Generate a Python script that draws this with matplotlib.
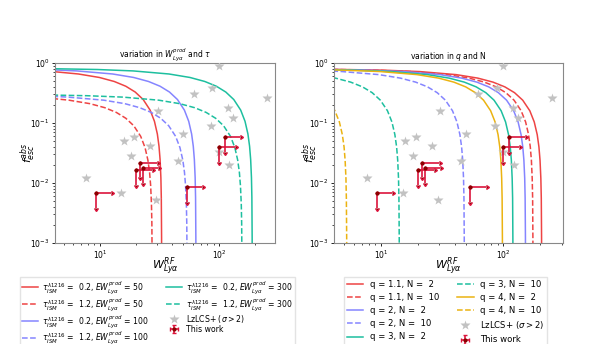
import matplotlib
matplotlib.use("Agg")
import matplotlib.pyplot as plt
import numpy as np

# ---------------- data ----------------
# LzLCS+ (sigma > 2) comparison sample
star_w = [100, 88, 62, 252, 30.6, 120, 131, 85, 50, 19.4, 15.8, 26.2, 18.1, 45.4, 100, 122, 7.7, 15.1, 29.4]
star_f = [0.89, 0.38, 0.30, 0.264, 0.16, 0.176, 0.12, 0.090, 0.066, 0.059, 0.051, 0.041, 0.028, 0.023, 0.033, 0.0197, 0.0123, 0.0069, 0.0052]

# This work: limits (upper limit in f_esc, lower limit in W)
work_w = [9.2, 53.5, 100, 112, 21.8, 20.1, 22.9]
work_f = [0.0069, 0.0085, 0.040, 0.059, 0.0218, 0.0165, 0.0176]
work_f_end = [0.0039, 0.0048, 0.022, 0.033, 0.0125, 0.0092, 0.0100]
work_w_end = [12.4, 72, 135, 150, 30, 27.2, 30.5]

# Left panel model curves
w_t02_e50 = [4, 6.6, 9.9, 13.2, 16.5, 19.8, 23.1, 26.4, 28.71, 30.36, 31.35, 32.01, 32.505, 32.769, 32.95, 32.984]
f_t02_e50 = [0.721, 0.656, 0.574, 0.492, 0.41, 0.328, 0.246, 0.164, 0.1066, 0.0656, 0.041, 0.0246, 0.0123, 0.00574, 0.00123, 0.00041]
w_t12_e50 = [4, 5.5, 8.25, 11.0, 13.75, 16.5, 19.25, 22.0, 23.93, 25.3, 26.13, 26.68, 27.09, 27.31, 27.46]
f_t12_e50 = [0.256, 0.24, 0.21, 0.18, 0.15, 0.12, 0.09, 0.06, 0.039, 0.024, 0.015, 0.009, 0.0045, 0.0021, 0.00045]
w_t02_e100 = [4, 6.4, 12.8, 19.2, 25.6, 32, 38.4, 44.8, 51.2, 55.68, 58.88, 60.8, 62.08, 63.04, 63.55, 63.9, 63.97]
f_t02_e100 = [0.769, 0.738, 0.656, 0.574, 0.492, 0.41, 0.328, 0.246, 0.164, 0.1066, 0.0656, 0.041, 0.0246, 0.0123, 0.00574, 0.00123, 0.00041]
w_t12_e100 = [4, 5.4, 10.8, 16.2, 21.6, 27, 32.4, 37.8, 43.2, 46.98, 49.68, 51.3, 52.38, 53.19, 53.62, 53.92]
f_t12_e100 = [0.278, 0.27, 0.24, 0.21, 0.18, 0.15, 0.12, 0.09, 0.06, 0.039, 0.024, 0.015, 0.009, 0.0045, 0.0021, 0.00045]
w_t02_e300 = [4, 9.5, 19, 38, 57, 76, 95, 114, 133, 152, 165.3, 174.8, 180.5, 184.3, 187.15, 188.67, 189.7, 189.9]
f_t02_e300 = [0.803, 0.779, 0.738, 0.656, 0.574, 0.492, 0.41, 0.328, 0.246, 0.164, 0.1066, 0.0656, 0.041, 0.0246, 0.0123, 0.00574, 0.00123, 0.00041]
w_t12_e300 = [4, 7.8, 15.6, 31.2, 46.8, 62.4, 78, 93.6, 109.2, 124.8, 135.7, 143.5, 148.2, 151.3, 153.7, 154.9, 155.8]
f_t12_e300 = [0.292, 0.285, 0.27, 0.24, 0.21, 0.18, 0.15, 0.12, 0.09, 0.06, 0.039, 0.024, 0.015, 0.009, 0.0045, 0.0021, 0.00045]

# Right panel model curves
w_q11_n2 = [4, 10.3, 20.6, 41.2, 61.8, 82.4, 103, 123.6, 144.2, 164.8, 179.2, 189.5, 195.7, 199.8, 202.9, 204.6, 205.7, 205.9]
f_q11_n2 = [0.784, 0.76, 0.72, 0.64, 0.56, 0.48, 0.40, 0.32, 0.24, 0.16, 0.104, 0.064, 0.04, 0.024, 0.012, 0.0056, 0.0012, 0.0004]
w_q11_n10 = [4, 8.75, 17.5, 35, 52.5, 70, 87.5, 105, 122.5, 140, 152.3, 161, 166.3, 169.8, 172.4, 173.8, 174.7, 174.9]
f_q11_n10 = [0.782, 0.76, 0.72, 0.64, 0.56, 0.48, 0.40, 0.32, 0.24, 0.16, 0.104, 0.064, 0.04, 0.024, 0.012, 0.0056, 0.0012, 0.0004]
w_q2_n2 = [4, 7.6, 15.2, 30.4, 45.6, 60.8, 76, 91.2, 106.4, 121.6, 132.2, 139.8, 144.4, 147.4, 149.7, 150.9, 151.8, 151.9]
f_q2_n2 = [0.779, 0.76, 0.72, 0.64, 0.56, 0.48, 0.40, 0.32, 0.24, 0.16, 0.104, 0.064, 0.04, 0.024, 0.012, 0.0056, 0.0012, 0.0004]
w_q2_n10 = [4, 4.8, 9.6, 14.4, 19.2, 24, 28.8, 33.6, 38.4, 41.76, 44.16, 45.6, 46.56, 47.28, 47.66, 47.93, 47.98]
f_q2_n10 = [0.733, 0.72, 0.64, 0.56, 0.48, 0.40, 0.32, 0.24, 0.16, 0.104, 0.064, 0.04, 0.024, 0.012, 0.0056, 0.0012, 0.0004]
w_q3_n2 = [4, 6, 12, 24, 36, 48, 60, 72, 84, 96, 104.4, 110.4, 114, 116.4, 118.2, 119.2, 119.8, 119.94]
f_q3_n2 = [0.773, 0.76, 0.72, 0.64, 0.56, 0.48, 0.40, 0.32, 0.24, 0.16, 0.104, 0.064, 0.04, 0.024, 0.012, 0.0056, 0.0012, 0.0004]
w_q3_n10 = [4, 4.23, 5.64, 7.05, 8.46, 9.87, 11.28, 12.27, 12.97, 13.4, 13.68, 13.89, 14.0, 14.08, 14.093]
f_q3_n10 = [0.573, 0.56, 0.48, 0.40, 0.32, 0.24, 0.16, 0.104, 0.064, 0.04, 0.024, 0.012, 0.0056, 0.0012, 0.0004]
w_q4_n2 = [4, 4.93, 9.85, 19.7, 29.55, 39.4, 49.25, 59.1, 68.95, 78.8, 85.7, 90.62, 93.58, 95.55, 97.02, 97.81, 98.35, 98.45]
f_q4_n2 = [0.767, 0.76, 0.72, 0.64, 0.56, 0.48, 0.40, 0.32, 0.24, 0.16, 0.104, 0.064, 0.04, 0.024, 0.012, 0.0056, 0.0012, 0.0004]
w_q4_n10 = [4, 4.19, 4.56, 4.82, 4.98, 5.08, 5.16, 5.20, 5.232, 5.237]
f_q4_n10 = [0.19, 0.16, 0.104, 0.064, 0.04, 0.024, 0.012, 0.0056, 0.0012, 0.0004]

left_labels = [
    r"$\tau_{ISM}^{\lambda 1216}$ =  0.2, $EW_{Ly\alpha}^{prod}$ = 50",
    r"$\tau_{ISM}^{\lambda 1216}$ =  1.2, $EW_{Ly\alpha}^{prod}$ = 50",
    r"$\tau_{ISM}^{\lambda 1216}$ =  0.2, $EW_{Ly\alpha}^{prod}$ = 100",
    r"$\tau_{ISM}^{\lambda 1216}$ =  1.2, $EW_{Ly\alpha}^{prod}$ = 100",
    r"$\tau_{ISM}^{\lambda 1216}$ =  0.2, $EW_{Ly\alpha}^{prod}$ = 300",
    r"$\tau_{ISM}^{\lambda 1216}$ =  1.2, $EW_{Ly\alpha}^{prod}$ = 300",
]
right_labels = [
    "q = 1.1, N =  2", "q = 1.1, N =  10", "q = 2, N =  2", "q = 2, N =  10",
    "q = 3, N =  2", "q = 3, N =  10", "q = 4, N =  2", "q = 4, N =  10",
]
star_label = r"LzLCS+ ($\sigma > 2$)"
work_label = "This work"

# ---------------- style ----------------
RED = "#ee4444"
BLUE = "#8585ff"
TEAL = "#1dbf9f"
YEL = "#ebb312"

W, H = 598, 344
fig = plt.figure(figsize=(W / 100, H / 100), dpi=100)
axL = fig.add_axes([55 / W, 1 - 243 / H, 220 / W, 180 / H])
axR = fig.add_axes([334 / W, 1 - 243 / H, 229 / W, 180 / H])

left_curves = [
    (w_t02_e50, f_t02_e50, RED, "-"), (w_t12_e50, f_t12_e50, RED, "--"),
    (w_t02_e100, f_t02_e100, BLUE, "-"), (w_t12_e100, f_t12_e100, BLUE, "--"),
    (w_t02_e300, f_t02_e300, TEAL, "-"), (w_t12_e300, f_t12_e300, TEAL, "--"),
]
right_curves = [
    (w_q11_n2, f_q11_n2, RED, "-"), (w_q11_n10, f_q11_n10, RED, "--"),
    (w_q2_n2, f_q2_n2, BLUE, "-"), (w_q2_n10, f_q2_n10, BLUE, "--"),
    (w_q3_n2, f_q3_n2, TEAL, "-"), (w_q3_n10, f_q3_n10, TEAL, "--"),
    (w_q4_n2, f_q4_n2, YEL, "-"), (w_q4_n10, f_q4_n10, YEL, "--"),
]

ww = np.array(work_w)
wf = np.array(work_f)
yerr = wf - np.array(work_f_end)
xerr = np.array(work_w_end) - ww


def panel(ax, curves, labels, title, xlim, ylpad):
    for (x, y, c, ls), lab in zip(curves, labels):
        ax.plot(x, y, color=c, ls=ls, lw=1.1, label=lab)
    ax.plot(star_w, star_f, ls="none", marker="*", ms=7, color="#c2c2c2",
            mec="none", label=star_label, zorder=3)
    ax.errorbar(ww, wf, yerr=yerr, xerr=xerr, uplims=True, xlolims=True,
                fmt="o", ms=2, color="#8b0000", ecolor="#dc143c", elinewidth=1.2,
                capsize=1.6, label=work_label, zorder=4)
    ax.set_xscale("log")
    ax.set_yscale("log")
    ax.set_xlim(*xlim)
    ax.set_ylim(1e-3, 1)
    ax.set_title(title, fontsize=5.5, pad=2.5)
    ax.set_xlabel(r"$W_{Ly\alpha}^{RF}$", fontsize=8, labelpad=-4)
    ax.set_ylabel(r"$f_{esc}^{abs}$", fontsize=8, labelpad=ylpad)
    ax.tick_params(labelsize=5.5, length=2.5, width=0.6, pad=1.5)
    ax.tick_params(which="minor", length=1.5, width=0.5)
    for s in ax.spines.values():
        s.set_color("#888888")
        s.set_linewidth(0.8)


panel(axL, left_curves, left_labels,
      r"variation in $W_{Ly\alpha}^{prod}$ and $\tau$", (4.2, 295), -6)
panel(axR, right_curves, right_labels,
      r"variation in $q$ and N", (4.12, 308), -8)

axL.legend(loc="upper left", bbox_to_anchor=(20 / W, 1 - 277 / H),
           bbox_transform=fig.transFigure, ncol=2, fontsize=5.6,
           borderaxespad=0, handlelength=2.0, columnspacing=2.2,
           labelspacing=0.02, handletextpad=0.6, borderpad=0.25,
           frameon=True, fancybox=False, edgecolor="#dddddd")
axR.legend(loc="upper left", bbox_to_anchor=(344 / W, 1 - 277 / H),
           bbox_transform=fig.transFigure, ncol=2, fontsize=6.1,
           borderaxespad=0, handlelength=2.0, columnspacing=2.0,
           labelspacing=0.5, handletextpad=0.8, borderpad=0.3,
           frameon=True, fancybox=False, edgecolor="#dddddd")

fig.savefig("out.png", dpi=100)
